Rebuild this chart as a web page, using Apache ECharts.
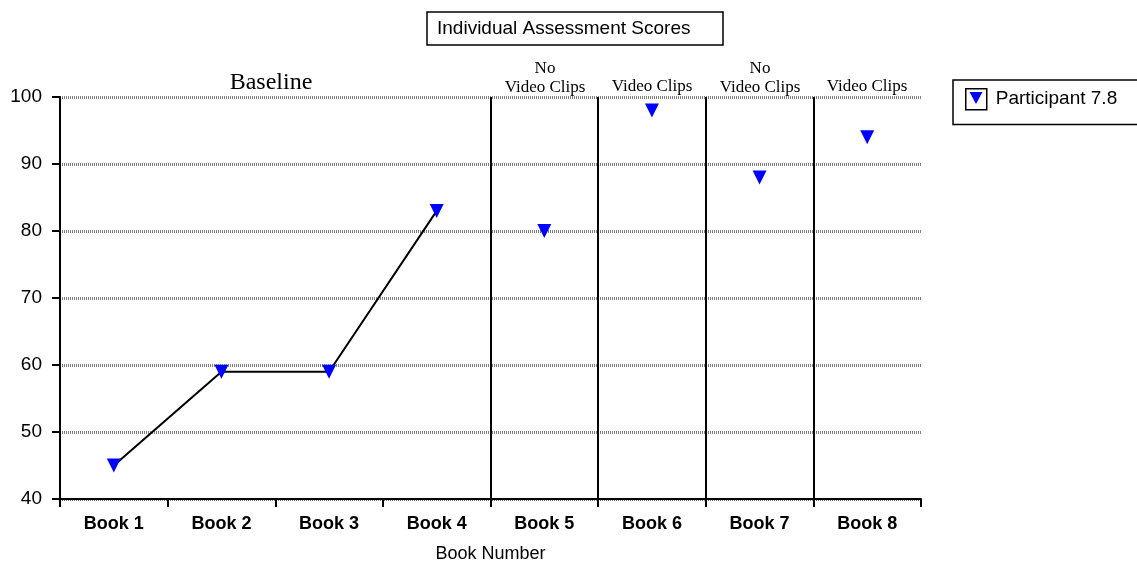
<!DOCTYPE html>
<html>
<head>
<meta charset="utf-8">
<script src="https://cdn.jsdelivr.net/npm/echarts@6/dist/echarts.min.js"></script>
<style>
  html, body { margin: 0; padding: 0; background: #fff; }
  #main { width: 1137px; height: 562px; }
</style>
</head>
<body>
<div id="main"></div>
<script>
var chartDom = document.getElementById("main");
var myChart = echarts.init(chartDom);

// data
var books = ["Book 1", "Book 2", "Book 3", "Book 4", "Book 5", "Book 6", "Book 7", "Book 8"];
var scores = [45, 59, 59, 83, 80, 98, 88, 94];
var baselineScores = [45, 59, 59, 83, "-", "-", "-", "-"];
var phaseBreaks = [4, 5, 6, 7];

var serif = "'Liberation Serif', 'Times New Roman', serif";
var sans = "'Liberation Sans', Arial, sans-serif";

var option = {
  animation: false,
  backgroundColor: "#fff",
  title: {
    text: "Individual Assessment Scores",
    left: 427,
    top: 12,
    padding: [7, 33, 7, 10],
    borderColor: "#000",
    borderWidth: 1.5,
    textStyle: { fontFamily: sans, fontSize: 19, fontWeight: "normal", color: "#000" },
  },
  legend: {
    data: ["Participant 7.8"],
    left: 953,
    top: 80,
    padding: [8, 60, 14, 12],
    borderColor: "#000",
    borderWidth: 1.5,
    itemWidth: 21,
    itemHeight: 21,
    icon: "rect",
    itemStyle: { color: "#fff", borderColor: "#000", borderWidth: 1.5 },
    textStyle: { fontFamily: sans, fontSize: 19, color: "#000", padding: [0, 0, 0, 4] },
  },
  grid: { left: 60, right: 216, top: 97, bottom: 63, outerBoundsMode: "none", containLabel: false },
  xAxis: [
    {
      type: "category",
      data: books,
      name: "Book Number",
      nameLocation: "middle",
      nameGap: 46,
      nameTextStyle: { fontFamily: sans, fontSize: 18, color: "#000" },
      axisLine: { lineStyle: { color: "#000", width: 2 } },
      axisTick: { show: true, length: 8, lineStyle: { color: "#000", width: 2 } },
      axisLabel: { fontFamily: sans, fontSize: 18, fontWeight: "bold", color: "#000", margin: 16 },
    },
    {
      type: "value",
      min: 0,
      max: 8,
      show: false,
    },
  ],
  yAxis: {
    type: "value",
    min: 40,
    max: 100,
    interval: 10,
    axisLine: { show: true, lineStyle: { color: "#000", width: 2 } },
    axisTick: { show: true, length: 8, lineStyle: { color: "#000", width: 2 } },
    axisLabel: { fontFamily: sans, fontSize: 19, color: "#000", margin: 18 },
    splitLine: { lineStyle: { color: "#808080", width: 3, type: [1, 1] } },
  },
  series: [
    {
      name: "baseline",
      type: "line",
      data: baselineScores,
      showSymbol: false,
      symbol: "none",
      lineStyle: { color: "#000", width: 2 },
      z: 2,
    },
    {
      name: "phases",
      type: "line",
      xAxisIndex: 1,
      data: [],
      markLine: {
        silent: true,
        symbol: "none",
        label: { show: false },
        lineStyle: { color: "#000", width: 2, type: "solid" },
        data: phaseBreaks.map(function (b) {
          return { xAxis: b };
        }),
      },
    },
    {
      name: "Participant 7.8",
      type: "scatter",
      data: scores,
      symbol: "triangle",
      symbolRotate: 180,
      symbolSize: [14, 14],
      itemStyle: { color: "#0000ff", opacity: 1 },
      z: 3,
    },
  ],
  graphic: [
    { type: "text", x: 271, y: 83, style: { text: "Baseline", font: "24px " + serif, fill: "#000", align: "center", verticalAlign: "middle" } },
    { type: "text", x: 545, y: 78, style: { text: "No\nVideo Clips", font: "17px " + serif, fill: "#000", align: "center", verticalAlign: "middle", lineHeight: 19 } },
    { type: "text", x: 652, y: 87, style: { text: "Video Clips", font: "17px " + serif, fill: "#000", align: "center", verticalAlign: "middle" } },
    { type: "text", x: 760, y: 78, style: { text: "No\nVideo Clips", font: "17px " + serif, fill: "#000", align: "center", verticalAlign: "middle", lineHeight: 19 } },
    { type: "text", x: 867, y: 87, style: { text: "Video Clips", font: "17px " + serif, fill: "#000", align: "center", verticalAlign: "middle" } },
    { type: "polygon", shape: { points: [[969.5, 92], [982.5, 92], [976, 104]] }, style: { fill: "#0000ff" }, z: 200 },
  ],
};

option && myChart.setOption(option);
</script>
</body>
</html>
